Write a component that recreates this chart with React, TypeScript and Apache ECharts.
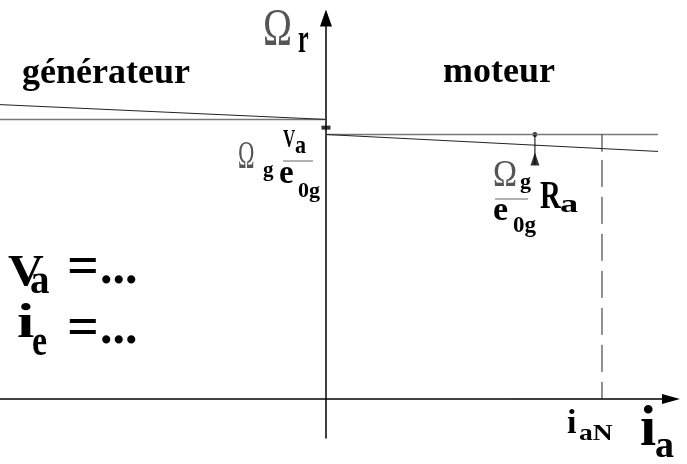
import React, { useEffect, useRef } from "react";
import * as echarts from "echarts";

// axis ranges (current i_a in units of i_aN, speed in units of Ω_g·V_a/e_0g)
const xRange = [-1.181, 1.25];
const yRange = [-0.1474, 1.4405];

// generator side (i_a < 0)
const genCurrent = [-1.181, 0];
const genSpeed = [1.113, 1.057];
const genNoLoad = [1.057, 1.057];

// motor side (i_a > 0)
const motCurrent = [0, 1.203];
const motSpeed = [1, 0.936];
const motNoLoad = [1, 1];

// markers
const ratedCurrent = 1; // i_aN
const ratedTickY = [1, 0.935];
const ratedDashY = [0.904, 0];
const dropCurrent = 0.757;
const dropArrowY = [0.885, 1];
const dropHeadY = 0.907;
const axisMarkY = 1.026;

const FAM = "Liberation Serif";

type Lbl = [string, number, number, number, boolean, number, string?];
// text, left, baseline, size, bold, scaleX, fill
const labels: Lbl[] = [
  ["Ω", 263, 45, 52, false, 0.75, "#555"],
  ["r", 298, 52, 40, true, 0.6],
  ["générateur", 22, 83, 36, true, 1],
  ["moteur", 443, 82, 36, true, 1],
  ["Ω", 238, 168, 39, false, 0.57, "#555"],
  ["g", 263, 176, 21, true, 1],
  ["V", 283, 147, 26, true, 0.65],
  ["a", 295, 153, 26, true, 0.85],
  ["e", 279, 183, 33, true, 1],
  ["0g", 298, 197, 22, true, 1],
  ["Ω", 493, 186, 39, false, 0.83, "#555"],
  ["g", 520, 188, 22, true, 1],
  ["e", 493, 220, 34, true, 1],
  ["0g", 513, 232, 23, true, 1],
  ["R", 540, 208, 39, true, 0.74],
  ["a", 560, 212, 26, true, 1.4],
  ["V", 8, 285, 45, true, 1.1],
  ["a", 30, 293, 39, true, 1],
  ["=", 67, 284, 56, true, 1],
  ["...", 100, 283, 50, true, 1],
  ["i", 17, 337, 48, true, 1.3],
  ["e", 32, 355, 44, true, 0.77],
  ["=", 67, 345, 56, true, 1],
  ["...", 100, 343, 50, true, 1],
  ["i", 567, 433, 34, true, 1],
  ["aN", 579, 440, 24, true, 1.15],
  ["i", 640, 445, 58, true, 1],
  ["a", 655, 457, 38, true, 1],
];

const fractionBars = [
  [283, 313, 161],
  [495, 528, 199],
];

const zip = (xs: number[], ys: number[]) => xs.map((x, i) => [x, ys[i]]);

export default function App() {
  const ref = useRef<HTMLDivElement>(null);
  useEffect(() => {
    if (!ref.current) return;
    const chart = echarts.init(ref.current, null, { renderer: "svg" });
    const line = (data: number[][], color: string, width: number, type: any = "solid") => ({
      type: "line",
      data,
      symbol: "none",
      silent: true,
      lineStyle: { color, width, type },
    });
    const graphics: any[] = labels.map(([text, x, base, size, bold, sx, fill]) => ({
      type: "text",
      x,
      y: base - 0.3375 * size,
      scaleX: sx,
      silent: true,
      style: {
        text,
        font: `${bold ? "bold " : ""}${size}px ${FAM}`,
        fill: fill || "#000",
        align: "left",
        verticalAlign: "middle",
      },
    }));
    fractionBars.forEach(([x1, x2, y]) =>
      graphics.push({
        type: "line",
        silent: true,
        shape: { x1, y1: y, x2, y2: y },
        style: { stroke: "#666", lineWidth: 1 },
      })
    );
    const axisCommon = {
      type: "value",
      axisTick: { show: false },
      axisLabel: { show: false },
      splitLine: { show: false },
    };
    chart.setOption({
      animation: false,
      textStyle: { fontFamily: FAM },
      grid: { left: 0, right: 16, top: 18, bottom: 26, containLabel: false },
      xAxis: {
        ...axisCommon,
        min: xRange[0],
        max: xRange[1],
        axisLine: {
          show: true,
          onZero: true,
          symbol: ["none", "triangle"],
          symbolSize: [10, 18],
          lineStyle: { color: "#000", width: 1.5 },
        },
      },
      yAxis: {
        ...axisCommon,
        min: yRange[0],
        max: yRange[1],
        axisLine: {
          show: true,
          onZero: true,
          symbol: ["none", "triangle"],
          symbolSize: [12, 17],
          lineStyle: { color: "#000", width: 1.5 },
        },
      },
      series: [
        line(zip(genCurrent, genNoLoad), "#777", 1.5),
        line(zip(genCurrent, genSpeed), "#222", 1),
        line(zip(motCurrent, motNoLoad), "#777", 1.5),
        line(zip(motCurrent, motSpeed), "#222", 1),
        line(zip([ratedCurrent, ratedCurrent], ratedTickY), "#222", 1),
        line(zip([ratedCurrent, ratedCurrent], ratedDashY), "#222", 1, [27, 10]),
        line(zip([dropCurrent, dropCurrent], dropArrowY), "#000", 1),
        {
          type: "scatter",
          silent: true,
          symbol: "triangle",
          symbolSize: [9, 13],
          itemStyle: { color: "#000" },
          data: [[dropCurrent, dropHeadY]],
        },
        {
          type: "scatter",
          silent: true,
          symbol: "circle",
          symbolSize: 5,
          itemStyle: { color: "#000" },
          data: [[dropCurrent, motNoLoad[1]]],
        },
        {
          type: "scatter",
          silent: true,
          symbol: "rect",
          symbolSize: [9, 4],
          itemStyle: { color: "#000" },
          data: [[0, axisMarkY]],
        },
      ],
      graphic: graphics,
    });
    return () => chart.dispose();
  }, []);
  return (
    <div
      ref={ref}
      style={{ position: "fixed", left: 0, top: 0, width: 687, height: 464 }}
    />
  );
}
